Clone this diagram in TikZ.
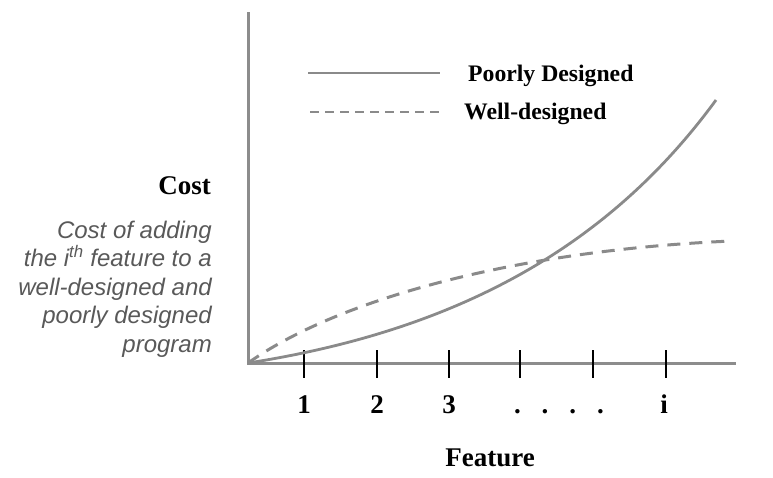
\documentclass[tikz,border=0pt]{standalone}
\usepackage{fontspec}
\setmainfont{Liberation Serif}
\setsansfont{Liberation Sans}
\usepackage{xcolor}
\definecolor{axisgray}{HTML}{8C8C8C}
\definecolor{curvegray}{HTML}{8A8A8A}
\definecolor{notegray}{HTML}{595959}

\begin{document}
\begin{tikzpicture}[
          x=1pt, y=-1pt,
          axis/.style={draw=axisgray, line width=3pt},
          tick/.style={draw=black, line width=2.5pt},
          poorly/.style={draw=curvegray, line width=2.8pt},
          well/.style={draw=curvegray, line width=3pt, dash pattern=on 13pt off 9pt},
          lbl/.style={inner sep=0pt, font=\bfseries\fontsize{27}{27}\selectfont},
          leg/.style={inner sep=0pt, anchor=base west, font=\bfseries\fontsize{23.7}{24}\selectfont},
        ]
          \useasboundingbox (0,0) rectangle (773,477);
          % axes
          \coordinate (origin) at (248,363);
          \coordinate (ytop) at (248,12);
          \coordinate (xend) at (736,363);
          \draw[axis] (ytop) -- (origin) -- (xend);
          % ticks
          \foreach \tx/\name in {304/t1, 377/t2, 449/t3, 520/t4, 593/t5, 666/t6} {
            \coordinate (\name) at (\tx,350);
            \draw[tick] (\name) -- ++(0,28);
          }
          \node[lbl, anchor=base] (one) at (304,413) {1};
          \node[lbl, anchor=base] (two) at (377,413) {2};
          \node[lbl, anchor=base] (three) at (449,413) {3};
          \node[lbl, anchor=base] (dots) at (559,413) {.\hspace{21pt}.\hspace{21pt}.\hspace{21pt}.};
          \node[lbl, anchor=base] (ith) at (664,413) {i};
          \node[lbl, anchor=base] (feature) at (490,466) {Feature};
          \node[lbl, anchor=base east] (cost) at (211,194) {Cost};
          \node[inner sep=0pt, anchor=north east, align=right, text=notegray,
                font=\sffamily\itshape\fontsize{24}{28.5}\selectfont] (note) at (212,220.5)
                {Cost of adding\\the i\textsuperscript{th} feature to a\\well-designed and\\poorly designed\\program};
          % curves
          \coordinate (poorend) at (716,100);
          \coordinate (wellend) at (732,241);
          \draw[poorly] (origin) .. controls (460,330) and (610,245) .. (poorend);
          \draw[well] (origin) .. controls (340,298) and (520,250) .. (wellend);
          % legend
          \coordinate (la) at (308,73);
          \coordinate (lb) at (440,73);
          \coordinate (lc) at (310,112);
          \coordinate (ld) at (442,112);
          \draw[poorly, line width=2.5pt] (la) -- (lb);
          \draw[well, line width=2.5pt, dash pattern=on 9pt off 6pt] (lc) -- (ld);
          \node[leg] (poorlbl) at (468,81) {Poorly Designed};
          \node[leg] (welllbl) at (464,119) {Well-designed};
        \end{tikzpicture}
\end{document}
